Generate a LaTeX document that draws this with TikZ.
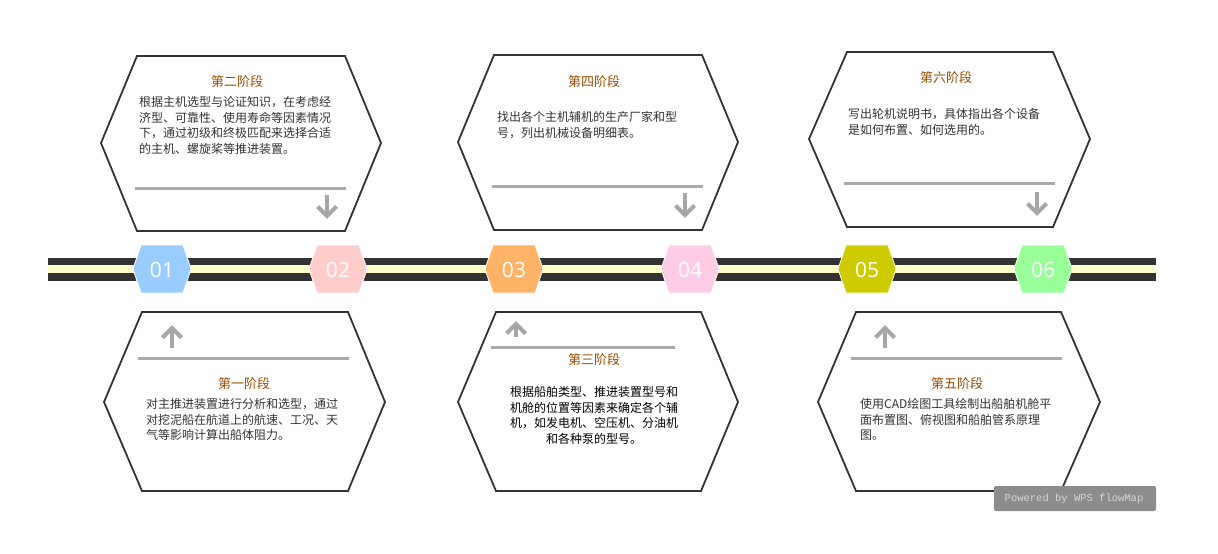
\documentclass[tikz,border=0pt]{standalone}
\usepackage{fontspec}
\setmainfont{Open Sans}
\newfontfamily\cjk{Noto Sans CJK SC}
\newfontfamily\wmfont{Liberation Mono}
\definecolor{dark}{HTML}{333333}
\definecolor{cream}{HTML}{FFFFCC}
\definecolor{ttl}{HTML}{994C00}
\definecolor{sep}{HTML}{AAAAAA}
\definecolor{arr}{HTML}{A6A6A6}
\definecolor{cA}{HTML}{99CCFF}
\definecolor{cB}{HTML}{FFCCCC}
\definecolor{cC}{HTML}{FFB366}
\definecolor{cD}{HTML}{FFCCE5}
\definecolor{cE}{HTML}{CCCC00}
\definecolor{cF}{HTML}{99FF99}
\newcommand\smallhex[3]{%
  \draw[white, line width=0.8pt, fill=#2] (#1-29,269) -- (#1-21,245) -- (#1+21,245) -- (#1+29,269) -- (#1+21,293) -- (#1-21,293) -- cycle;
  \node[numtext] (n#3) at (#1,269.5) {#3};}
\newcommand\downarr[3]{% x, ytop, ybottom
  \draw[arrowline] (#1,#2) -- (#1,#3);
  \draw[arrowline] (#1-9.5,#3-9.5) -- (#1,#3) -- (#1+9.5,#3-9.5);}
\newcommand\uparr[3]{% x, ytop, ybottom
  \draw[arrowline] (#1,#2) -- (#1,#3);
  \draw[arrowline] (#1-9.5,#2+9.5) -- (#1,#2) -- (#1+9.5,#2+9.5);}
\begin{document}
\begin{tikzpicture}[x=1pt,y=-1pt,
  bighex/.style={draw=dark, line width=1.8pt, fill=white, line join=miter},
  sepline/.style={draw=sep, line width=3pt},
  arrowline/.style={draw=arr, line width=4pt, line join=miter},
  numtext/.style={text=white, font=\fontsize{21}{21}\selectfont, inner sep=0pt},
  title/.style={text=ttl, font=\cjk\fontsize{13}{13}\selectfont, inner sep=0pt},
  body/.style={text=dark, font=\cjk\fontsize{12}{15.5}\selectfont, inner sep=0pt, align=left, anchor=north west},
]
\useasboundingbox (0,0) rectangle (1218,554);
\fill[white] (0,0) rectangle (1218,554);
% band
\fill[dark] (48,258) rectangle (1156,281);
\fill[cream] (48,265) rectangle (1156,273);
% small hexagons
\smallhex{162}{cA}{01}
\smallhex{338}{cB}{02}
\smallhex{514}{cC}{03}
\smallhex{690}{cD}{04}
\smallhex{867}{cE}{05}
\smallhex{1043}{cF}{06}
% top hexagons
\draw[bighex] (101,143) -- (137,56) -- (345,56) -- (381,143) -- (345,231) -- (137,231) -- cycle;
\draw[bighex] (458,142) -- (494,55) -- (702,55) -- (738,142) -- (702,230) -- (494,230) -- cycle;
\draw[bighex] (809,139) -- (847,52) -- (1053,52) -- (1090,139) -- (1053,227) -- (847,227) -- cycle;
% bottom hexagons
\draw[bighex] (104,402) -- (142,312) -- (348,312) -- (385,402) -- (348,491) -- (142,491) -- cycle;
\draw[bighex] (458,402) -- (496,312) -- (701,312) -- (738,402) -- (701,491) -- (496,491) -- cycle;
\draw[bighex] (818,402) -- (856,312) -- (1061,312) -- (1100,402) -- (1061,491) -- (856,491) -- cycle;
% separator lines
\draw[sepline] (135,188) -- (346,188);
\draw[sepline] (492,186) -- (703,186);
\draw[sepline] (844,183) -- (1055,183);
\draw[sepline] (138,358) -- (349,358);
\draw[sepline] (491,347) -- (675,347);
\draw[sepline] (851,358) -- (1062,358);
% arrows
\downarr{327}{195}{216}
\downarr{685}{193}{215}
\downarr{1037}{192}{213}
\uparr{172}{328}{348}
\uparr{516}{324}{337}
\uparr{885}{328}{348}
% titles
\node[title] (t2) at (237,82) {第二阶段};
\node[title] (t4) at (594,82) {第四阶段};
\node[title] (t6) at (946,78) {第六阶段};
\node[title] (t1) at (244,384) {第一阶段};
\node[title] (t3) at (594,360) {第三阶段};
\node[title] (t5) at (957,384) {第五阶段};
% bodies
\node[body] (b2) at (139,96.5) {根据主机选型与论证知识，在考虑经\\济型、可靠性、使用寿命等因素情况\\下，通过初级和终极匹配来选择合适\\的主机、螺旋桨等推进装置。};
\node[body] (b4) at (497,111.5) {找出各个主机辅机的生产厂家和型\\号，列出机械设备明细表。};
\node[body] (b6) at (848,108.5) {写出轮机说明书，具体指出各个设备\\是如何布置、如何选用的。};
\node[body] (b1) at (146,398.5) {对主推进装置进行分析和选型，通过\\对挖泥船在航道上的航速、工况、天\\气等影响计算出船体阻力。};
\node[body, anchor=north, align=center, text=black] (b3) at (594,386.5) {根据船舶类型、推进装置型号和\\机舱的位置等因素来确定各个辅\\机，如发电机、空压机、分油机\\和各种泵的型号。};
\node[body] (b5) at (860,398.5) {使用CAD绘图工具绘制出船舶机舱平\\面布置图、俯视图和船舶管系原理\\图。};
% watermark
\fill[fill={rgb,255:red,140;green,140;blue,140}, rounded corners=2pt] (994,486) rectangle (1156,511);
\node[text={rgb,255:red,215;green,215;blue,215}, font=\wmfont\fontsize{10.5}{10.5}\selectfont, inner sep=0pt] (wm) at (1074,498.5) {Powered by WPS flowMap};
\end{tikzpicture}
\end{document}
